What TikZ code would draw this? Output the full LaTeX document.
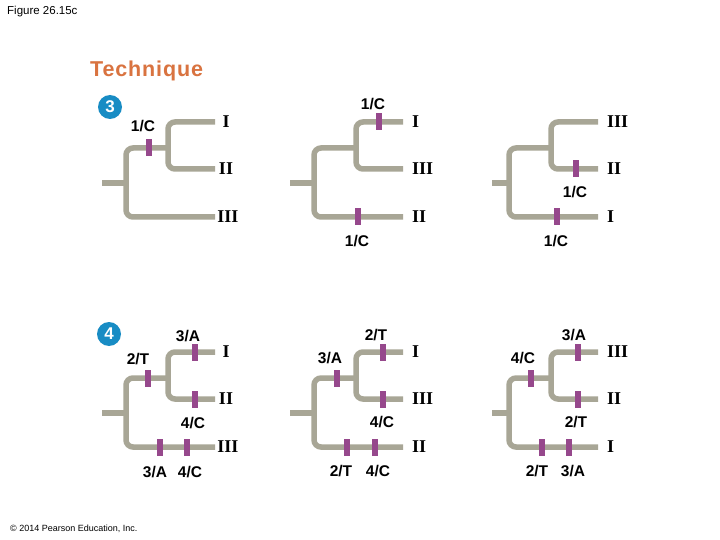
\documentclass[tikz,border=0pt]{standalone}
\usepackage{fontspec}
\setmainfont{Liberation Sans}
\newfontfamily\romanfont{Liberation Serif}
\usetikzlibrary{positioning}

\definecolor{treegray}{RGB}{168,166,150}
\definecolor{barpurple}{RGB}{150,72,140}
\definecolor{stepblue}{RGB}{24,140,196}
\definecolor{techorange}{RGB}{217,115,64}

\tikzset{
  branch/.style={line width=5.5pt, draw=treegray, rounded corners=7pt},
  mutbar/.style={rectangle, fill=barpurple, minimum width=6pt, minimum height=17pt, inner sep=0pt},
  charlab/.style={font=\fontsize{15.5}{18}\selectfont\bfseries, inner sep=0pt},
  taxon/.style={font=\romanfont\fontsize{18}{20}\selectfont\bfseries, inner sep=0pt},
  stepnum/.style={circle, fill=stepblue, text=white, font=\fontsize{17}{19}\selectfont\bfseries, minimum size=24pt, inner sep=0pt},
}

% #1 name, #2 x of leaf ends, #3 y of root, #4 x of root stub
\newcommand\cladetree[4]{%
  \coordinate (#1s) at (#4,#3);
  \coordinate (#1r) at (#2-89,#3);
  \coordinate (#1u) at (#2-89,#3-35);
  \coordinate (#1d) at (#2-89,#3+34);
  \coordinate (#1n) at (#2-47,#3-35);
  \coordinate (#1a) at (#2,#3-61);
  \coordinate (#1b) at (#2,#3-14);
  \coordinate (#1c) at (#2,#3+34);
  \draw[branch] (#1s) -- (#1r);
  \draw[branch] (#1n) -- (#1u) -- (#1d) -- (#1c);
  \draw[branch] (#1a) -| (#1n) |- (#1b);
}

\begin{document}
\begin{tikzpicture}[x=1pt, y=-1pt]
\useasboundingbox[fill=white] (0,0) rectangle (720,540);

% Headings
\node[anchor=base west, inner sep=0pt, font=\fontsize{11.5}{13}\selectfont] (fig) at (7,15) {Figure 26.15c};
\node[anchor=base west, inner sep=0pt, text=techorange, font=\fontsize{21.5}{24}\selectfont\bfseries\addfontfeature{LetterSpace=4}] (tech) at (90,77) {Technique};
\node[stepnum] (step3) at (110,107) {3};
\node[stepnum] (step4) at (109,334) {4};

% Trees, step 3
\cladetree{A}{215}{183}{102}
\cladetree{B}{403}{183}{290}
\cladetree{C}{598}{183}{492}

% Trees, step 4
\cladetree{D}{215}{413}{102}
\cladetree{E}{403}{413}{290}
\cladetree{F}{598}{413}{492}

% Taxa
\node[taxon] (Ata) at (226,122) {I};
\node[taxon] (Atb) at (226,169) {II};
\node[taxon] (Atc) at (228,217) {III};
\node[taxon, right=9pt of Ba] (Bta) {I};
\node[taxon, right=9pt of Bb] (Btb) {III};
\node[taxon, right=9pt of Bc] (Btc) {II};
\node[taxon, right=9pt of Ca] (Cta) {III};
\node[taxon, right=9pt of Cb] (Ctb) {II};
\node[taxon, right=9pt of Cc] (Ctc) {I};

\node[taxon] (Dta) at (226,352) {I};
\node[taxon] (Dtb) at (226,399) {II};
\node[taxon] (Dtc) at (228,447) {III};
\node[taxon, right=9pt of Ea] (Eta) {I};
\node[taxon, right=9pt of Eb] (Etb) {III};
\node[taxon, right=9pt of Ec] (Etc) {II};
\node[taxon, right=9pt of Fa] (Fta) {III};
\node[taxon, right=9pt of Fb] (Ftb) {II};
\node[taxon, right=9pt of Fc] (Ftc) {I};

% Character changes, step 3
\node[mutbar] (Am1) at (149,148) {};
\node[charlab] (Al1) at (143,126) {1/C};

\node[mutbar] (Bm1) at (379,122) {};
\node[charlab] (Bl1) at (373,104) {1/C};
\node[mutbar] (Bm2) at (358,217) {};
\node[charlab] (Bl2) at (357,241) {1/C};

\node[mutbar] (Cm1) at (576,169) {};
\node[charlab] (Cl1) at (575,192) {1/C};
\node[mutbar] (Cm2) at (557,217) {};
\node[charlab] (Cl2) at (556,241) {1/C};

% Character changes, step 4
\node[mutbar] (Dm1) at (148,378) {};
\node[charlab] (Dl1) at (138,359) {2/T};
\node[mutbar] (Dm2) at (195,352) {};
\node[charlab] (Dl2) at (188,336) {3/A};
\node[mutbar] (Dm3) at (195,399) {};
\node[charlab] (Dl3) at (193,423) {4/C};
\node[mutbar] (Dm4) at (160,447) {};
\node[charlab] (Dl4) at (155,472) {3/A};
\node[mutbar] (Dm5) at (187,447) {};
\node[charlab] (Dl5) at (190,472) {4/C};

\node[mutbar] (Em1) at (337,378) {};
\node[charlab] (El1) at (330,358) {3/A};
\node[mutbar] (Em2) at (383,352) {};
\node[charlab] (El2) at (376,335) {2/T};
\node[mutbar] (Em3) at (383,399) {};
\node[charlab] (El3) at (382,422) {4/C};
\node[mutbar] (Em4) at (347,447) {};
\node[charlab] (El4) at (341,471) {2/T};
\node[mutbar] (Em5) at (375,447) {};
\node[charlab] (El5) at (378,471) {4/C};

\node[mutbar] (Fm1) at (531,378) {};
\node[charlab] (Fl1) at (523,358) {4/C};
\node[mutbar] (Fm2) at (578,352) {};
\node[charlab] (Fl2) at (574,335) {3/A};
\node[mutbar] (Fm3) at (578,399) {};
\node[charlab] (Fl3) at (576,422) {2/T};
\node[mutbar] (Fm4) at (542,447) {};
\node[charlab] (Fl4) at (537,471) {2/T};
\node[mutbar] (Fm5) at (569,447) {};
\node[charlab] (Fl5) at (573,471) {3/A};

% Footer
\node[anchor=base west, inner sep=0pt, font=\fontsize{9}{11}\selectfont] (copy) at (10,531) {© 2014 Pearson Education, Inc.};
\end{tikzpicture}
\end{document}
